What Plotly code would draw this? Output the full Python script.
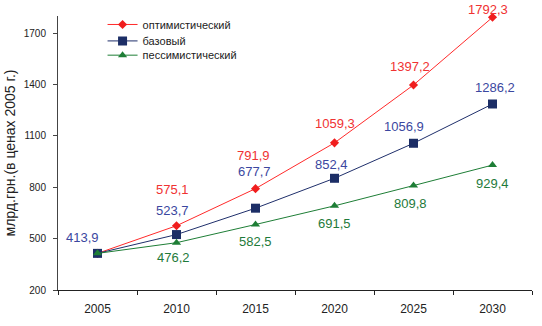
import plotly.graph_objects as go

# Прогноз ВВП по сценариям, млрд. грн. в ценах 2005 г.
years = ["2005", "2010", "2015", "2020", "2025", "2030"]
optimistic = [413.9, 575.1, 791.9, 1059.3, 1397.2, 1792.3]
base = [413.9, 523.7, 677.7, 852.4, 1056.9, 1286.2]
pessimistic = [413.9, 476.2, 582.5, 691.5, 809.8, 929.4]

series_names = ["оптимистический", "базовый", "пессимистический"]
y_ticks = [200, 500, 800, 1100, 1400, 1700]

FONT = "Liberation Sans, Arial, sans-serif"

# label placement offsets (px) per point: (xshift, yshift); None = no label
opt_lbl = [None, (-4, 36), (-2, 33), (0, 19), (-4, 18), (-5, 8)]
base_lbl = [(-15, 16), (-4, 24), (-1, 37), (-3, 14), (-10, 17), (2, 16)]
pess_lbl = [None, (-3, -15), (0, -17), (0, -18), (-3, -18), (0, -18)]

# one legend box per series so the rows can sit closer together
legend_ids = ["legend", "legend2", "legend3"]
legend_tops = [1.022, 0.962, 0.910]


def fmt(v):
    return f"{v:.1f}".replace(".", ",")


fig = go.Figure()

styles = [
    (optimistic, "#FF2A2A", "#F01E1E", "diamond", 7, "#F03232", opt_lbl),
    (base, "#1F2F6B", "#1C2E66", "square", 9, "#3B47A0", base_lbl),
    (pessimistic, "#1E7E36", "#1E7E36", "triangle-up", 8, "#1E7A3A", pess_lbl),
]

annotations = []
for name, lg, (vals, lcol, mcol, sym, msz, tcol, offs) in zip(series_names, legend_ids, styles):
    fig.add_trace(go.Scatter(
        x=years, y=vals, name=name, mode="lines+markers",
        line=dict(color=lcol, width=1),
        marker=dict(symbol=sym, size=msz, color=mcol),
        cliponaxis=False, legend=lg,
    ))
    # category axis: annotations are placed by category index
    for i, (v, off) in enumerate(zip(vals, offs)):
        if off is None:
            continue
        annotations.append(dict(
            x=i, y=v, text=fmt(v), showarrow=False,
            xshift=off[0], yshift=off[1],
            font=dict(family=FONT, size=13, color=tcol),
        ))

legend_style = dict(
    x=0.094, xanchor="left", yanchor="top",
    bgcolor="rgba(0,0,0,0)", font=dict(family=FONT, size=11, color="#222222"),
    itemwidth=30,
)

fig.update_layout(
    width=542, height=326,
    margin=dict(l=53, r=9.5, t=15, b=34),
    paper_bgcolor="white", plot_bgcolor="white",
    font=dict(family=FONT, color="#222222"),
    showlegend=True,
    annotations=annotations,
    **{lg: dict(legend_style, y=top) for lg, top in zip(legend_ids, legend_tops)},
)

fig.update_xaxes(
    type="category", categoryorder="array", categoryarray=years,
    range=[-0.5, len(years) - 0.5],
    tickson="boundaries", ticks="outside", ticklen=4,
    tickcolor="#222222", showline=True, linecolor="#222222", linewidth=1,
    showgrid=False, tickfont=dict(family=FONT, size=12, color="#222222"),
    ticklabelstandoff=8,
)
fig.update_yaxes(
    range=[200, 1800], tickvals=y_ticks, ticks="outside", ticklen=4,
    tickcolor="#444444", showline=True, linecolor="#444444", linewidth=1,
    showgrid=False, zeroline=False,
    tickfont=dict(family=FONT, size=10, color="#222222"),
    ticklabelstandoff=5,
    title=dict(text="млрд.грн.(в ценах 2005 г.)", standoff=4,
               font=dict(family=FONT, size=14, color="#222222")),
)

fig.write_html("out.html")
